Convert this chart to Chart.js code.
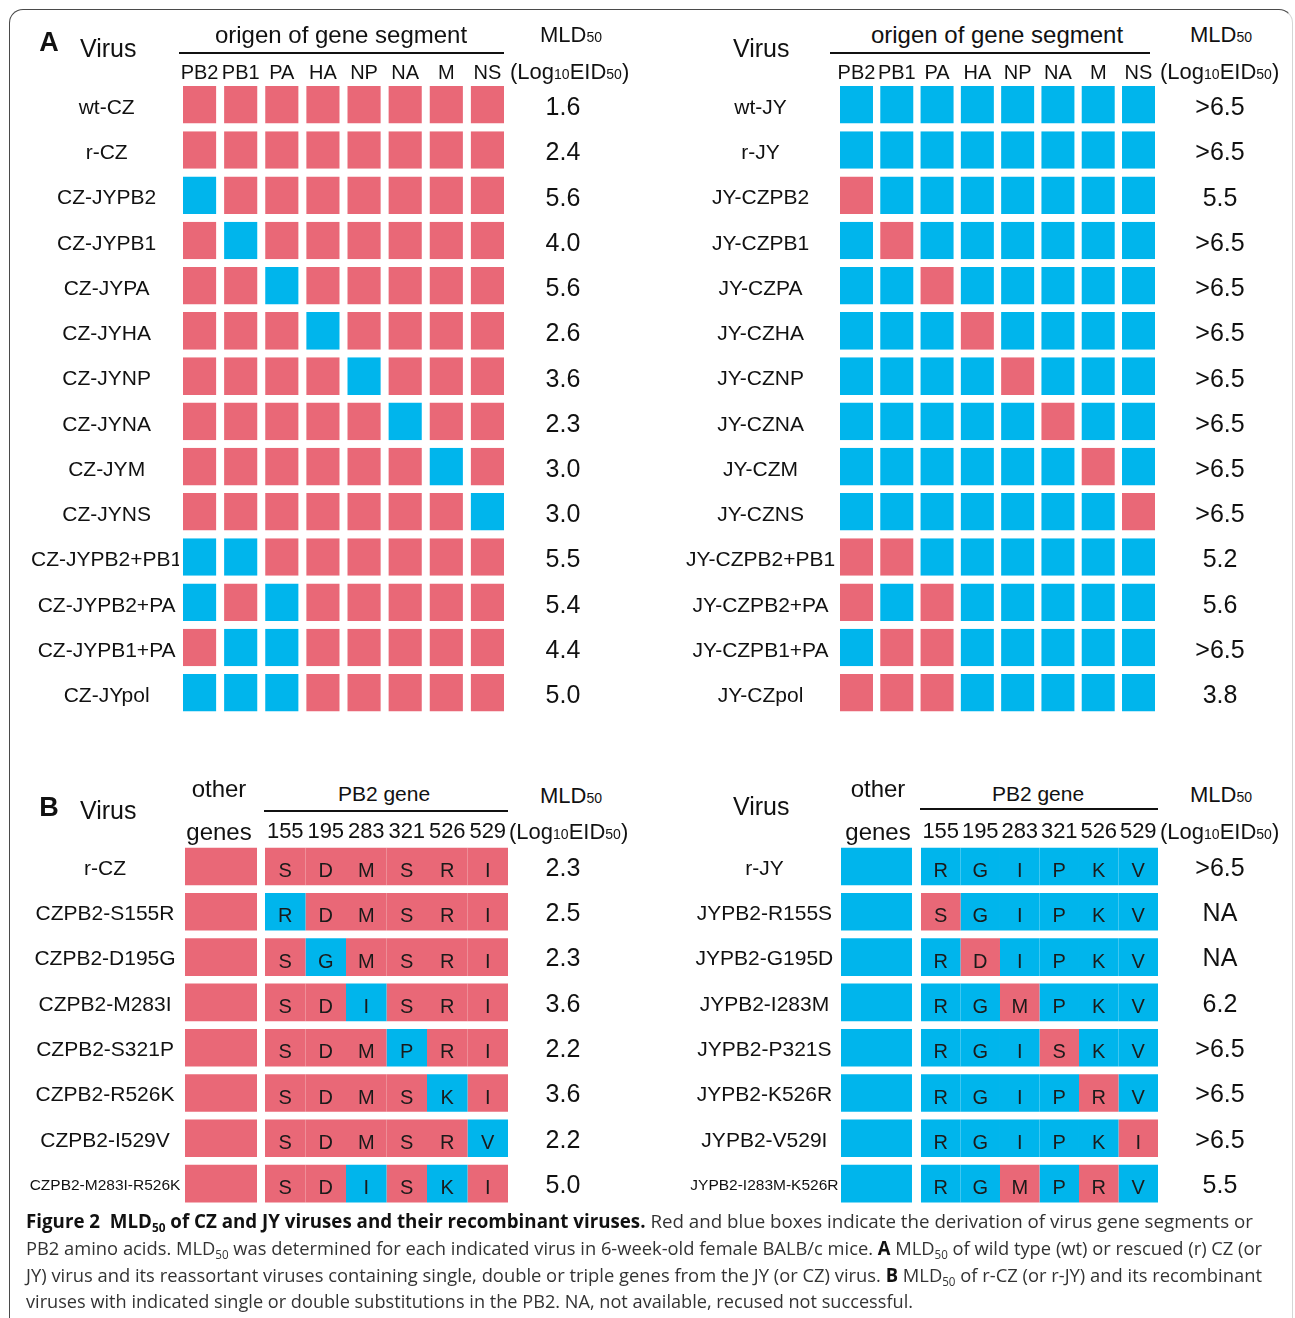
<!DOCTYPE html>
<html><head><meta charset="utf-8">
<script src="https://cdn.jsdelivr.net/npm/chart.js@4/dist/chart.umd.min.js"></script>
<style>
html,body{margin:0;padding:0;background:#fff;}
#fig{position:relative;width:1295px;height:1318px;overflow:hidden;font-family:"Liberation Sans",Arial,sans-serif;color:#111;}
.t{position:absolute;white-space:nowrap;line-height:1;}
.c{transform:translate(-50%,-50%);}
.l{transform:translate(0,-50%);}
.s{font-size:14px;}
canvas{position:absolute;}
.rule{position:absolute;height:2px;background:#111;}
#frame{position:absolute;left:9px;top:9px;width:1284px;height:1400px;border-top:1.5px solid #4a4a4a;border-left:1.5px solid #4a4a4a;border-right:1px solid #d5d5d5;border-radius:14px 14px 0 0;box-sizing:border-box;}
.cap{position:absolute;left:26px;font-family:"Open Sans",sans-serif;font-size:19px;color:#333;white-space:nowrap;transform-origin:0 50%;line-height:1;}
.cap b{color:#111;}
.cap sub{font-size:12px;vertical-align:-4px;line-height:0;}
</style></head>
<body>
<div id="fig">
<div id="frame"></div>
<canvas id="cA1"></canvas><canvas id="cA2"></canvas><canvas id="cB1"></canvas><canvas id="cB2"></canvas>

<div class="t c" style="left:49px;top:42px;font-size:27px;font-weight:bold;">A</div>
<div class="t l" style="left:80px;top:48px;font-size:25px;">Virus</div>
<div class="t c" style="left:341px;top:35px;font-size:24px;">origen of gene segment</div>
<div class="rule" style="left:179px;top:52px;width:325px;"></div>
<div class="t l" style="left:540px;top:35px;font-size:22px;">MLD<span class="s">50</span></div>
<div class="t l" style="left:510px;top:72px;font-size:22px;">(Log<span class="s">10</span>EID<span class="s">50</span>)</div>

<div class="t l" style="left:733px;top:48px;font-size:25px;">Virus</div>
<div class="t c" style="left:997px;top:35px;font-size:24px;">origen of gene segment</div>
<div class="rule" style="left:830px;top:52px;width:320px;"></div>
<div class="t l" style="left:1190px;top:35px;font-size:22px;">MLD<span class="s">50</span></div>
<div class="t l" style="left:1160px;top:72px;font-size:22px;">(Log<span class="s">10</span>EID<span class="s">50</span>)</div>

<div class="t c" style="left:49px;top:807px;font-size:27px;font-weight:bold;">B</div>
<div class="t l" style="left:80px;top:810px;font-size:25px;">Virus</div>
<div class="t c" style="left:219px;top:789px;font-size:24px;">other</div>
<div class="t c" style="left:219px;top:832px;font-size:24px;">genes</div>
<div class="t c" style="left:384px;top:793px;font-size:21px;">PB2 gene</div>
<div class="rule" style="left:264px;top:810px;width:244px;"></div>
<div class="t l" style="left:540px;top:796px;font-size:22px;">MLD<span class="s">50</span></div>
<div class="t l" style="left:509px;top:832px;font-size:22px;">(Log<span class="s">10</span>EID<span class="s">50</span>)</div>

<div class="t l" style="left:733px;top:806px;font-size:25px;">Virus</div>
<div class="t c" style="left:878px;top:789px;font-size:24px;">other</div>
<div class="t c" style="left:878px;top:832px;font-size:24px;">genes</div>
<div class="t c" style="left:1038px;top:793px;font-size:21px;">PB2 gene</div>
<div class="rule" style="left:920px;top:808px;width:238px;"></div>
<div class="t l" style="left:1190px;top:795px;font-size:22px;">MLD<span class="s">50</span></div>
<div class="t l" style="left:1160px;top:832px;font-size:22px;">(Log<span class="s">10</span>EID<span class="s">50</span>)</div>

<div class="cap" id="cap1" style="top:1212px;" data-w="1227"><b>Figure 2&nbsp; MLD<sub>50</sub> of CZ and JY viruses and their recombinant viruses.</b> Red and blue boxes indicate the derivation of virus gene segments or</div>
<div class="cap" id="cap2" style="top:1239px;" data-w="1236">PB2 amino acids. MLD<sub>50</sub> was determined for each indicated virus in 6-week-old female BALB/c mice. <b>A</b> MLD<sub>50</sub> of wild type (wt) or rescued (r) CZ (or</div>
<div class="cap" id="cap3" style="top:1266px;" data-w="1236">JY) virus and its reassortant viruses containing single, double or triple genes from the JY (or CZ) virus. <b>B</b> MLD<sub>50</sub> of r-CZ (or r-JY) and its recombinant</div>
<div class="cap" id="cap4" style="top:1292px;" data-w="887">viruses with indicated single or double substitutions in the PB2. NA, not available, recused not successful.</div>
</div>

<script>
// ---------- data ----------
const genes = ['PB2','PB1','PA','HA','NP','NA','M','NS'];

const czVirusesA = ['wt-CZ','r-CZ','CZ-JYPB2','CZ-JYPB1','CZ-JYPA','CZ-JYHA','CZ-JYNP','CZ-JYNA','CZ-JYM','CZ-JYNS','CZ-JYPB2+PB1','CZ-JYPB2+PA','CZ-JYPB1+PA','CZ-JYpol'];
const czOriginA  = ['CCCCCCCC','CCCCCCCC','JCCCCCCC','CJCCCCCC','CCJCCCCC','CCCJCCCC','CCCCJCCC','CCCCCJCC','CCCCCCJC','CCCCCCCJ','JJCCCCCC','JCJCCCCC','CJJCCCCC','JJJCCCCC'];
const czMldA     = ['1.6','2.4','5.6','4.0','5.6','2.6','3.6','2.3','3.0','3.0','5.5','5.4','4.4','5.0'];

const jyVirusesA = ['wt-JY','r-JY','JY-CZPB2','JY-CZPB1','JY-CZPA','JY-CZHA','JY-CZNP','JY-CZNA','JY-CZM','JY-CZNS','JY-CZPB2+PB1','JY-CZPB2+PA','JY-CZPB1+PA','JY-CZpol'];
const jyOriginA  = ['JJJJJJJJ','JJJJJJJJ','CJJJJJJJ','JCJJJJJJ','JJCJJJJJ','JJJCJJJJ','JJJJCJJJ','JJJJJCJJ','JJJJJJCJ','JJJJJJJC','CCJJJJJJ','CJCJJJJJ','JCCJJJJJ','CCCJJJJJ'];
const jyMldA     = ['>6.5','>6.5','5.5','>6.5','>6.5','>6.5','>6.5','>6.5','>6.5','>6.5','5.2','5.6','>6.5','3.8'];

const pb2Positions = ['155','195','283','321','526','529'];

const czVirusesB        = ['r-CZ','CZPB2-S155R','CZPB2-D195G','CZPB2-M283I','CZPB2-S321P','CZPB2-R526K','CZPB2-I529V','CZPB2-M283I-R526K'];
const czOtherOriginB    = 'C';
const czResiduesB       = ['SDMSRI','RDMSRI','SGMSRI','SDISRI','SDMPRI','SDMSKI','SDMSRV','SDISKI'];
const czResidueOriginB  = ['CCCCCC','JCCCCC','CJCCCC','CCJCCC','CCCJCC','CCCCJC','CCCCCJ','CCJCJC'];
const czMldB            = ['2.3','2.5','2.3','3.6','2.2','3.6','2.2','5.0'];

const jyVirusesB        = ['r-JY','JYPB2-R155S','JYPB2-G195D','JYPB2-I283M','JYPB2-P321S','JYPB2-K526R','JYPB2-V529I','JYPB2-I283M-K526R'];
const jyOtherOriginB    = 'J';
const jyResiduesB       = ['RGIPKV','SGIPKV','RDIPKV','RGMPKV','RGISKV','RGIPRV','RGIPKI','RGMPRV'];
const jyResidueOriginB  = ['JJJJJJ','CJJJJJ','JCJJJJ','JJCJJJ','JJJCJJ','JJJJCJ','JJJJJC','JJCJCJ'];
const jyMldB            = ['>6.5','NA','NA','6.2','>6.5','>6.5','>6.5','5.5'];

// ---------- styles ----------
const RED = '#E96877', BLUE = '#00B5EC', TXT = '#111';
const FONT = '"Liberation Sans", Arial, sans-serif';
const col = o => (o === 'C' ? RED : BLUE);

function fixAxis(size, prop) {
  return a => { a[prop] = size; a.paddingTop = 0; a.paddingBottom = 0; a.paddingLeft = 0; a.paddingRight = 0; };
}

const letterPlugin = {
  id: 'letters',
  afterDatasetsDraw(chart, args, opts) {
    if (!opts || !opts.residues) return;
    const ctx = chart.ctx;
    ctx.save();
    ctx.font = '20px ' + FONT;
    ctx.fillStyle = '#1a1a1a';
    ctx.textAlign = 'center';
    ctx.textBaseline = 'middle';
    for (let p = 0; p < pb2Positions.length; p++) {
      const meta = chart.getDatasetMeta(opts.first + p);
      meta.data.forEach((el, r) => {
        const pr = el.getProps(['x', 'base', 'y'], true);
        ctx.fillText(opts.residues[r][p], (pr.x + pr.base) / 2, pr.y + 5);
      });
    }
    ctx.restore();
  }
};

function buildChart(id, box, area, g) {
  const cv = document.getElementById(id);
  cv.width = box.w; cv.height = box.h;
  cv.style.left = box.l + 'px'; cv.style.top = box.t + 'px';
  cv.style.width = box.w + 'px'; cv.style.height = box.h + 'px';
  const leftW = area.l - box.l, rightW = box.l + box.w - area.r, topH = area.t - box.t, padB = box.t + box.h - area.b;
  const n = g.labels.length;
  new Chart(cv.getContext('2d'), {
    type: 'bar',
    data: { labels: g.labels, datasets: g.datasets },
    plugins: [letterPlugin],
    options: {
      indexAxis: 'y', responsive: false, animation: false, events: [],
      layout: { padding: { left: 0, right: 0, top: 0, bottom: padB } },
      plugins: { legend: { display: false }, tooltip: { enabled: false }, letters: g.letters || {} },
      scales: {
        x: {
          type: 'linear', position: 'top', min: 0, max: g.xMax, stacked: true,
          grid: { display: false, drawTicks: false }, border: { display: false },
          afterBuildTicks: a => { a.ticks = g.xTicks.map(v => ({ value: v })); },
          ticks: { autoSkip: false, maxRotation: 0, minRotation: 0, padding: g.xPad, color: TXT,
                   font: { family: FONT, size: g.xFont }, callback: (v, i) => g.xLabels[i] },
          afterFit: fixAxis(topH, 'height')
        },
        y: {
          type: 'category', position: 'left', stacked: true, offset: true,
          grid: { display: false, drawTicks: false }, border: { display: false },
          ticks: { autoSkip: false, crossAlign: 'center', padding: g.yPad, color: TXT, labelOffset: g.lOff,
                   font: c => ({ family: FONT, size: (g.smallLast && c.index === n - 1) ? 15.5 : g.yFont }) },
          afterFit: fixAxis(leftW, 'width')
        },
        y2: {
          type: 'category', position: 'right', labels: g.values, offset: true,
          grid: { display: false, drawTicks: false }, border: { display: false },
          ticks: { autoSkip: false, crossAlign: 'center', padding: g.vPad, color: TXT, labelOffset: g.lOff,
                   font: { family: FONT, size: 25 } },
          afterFit: fixAxis(rightW, 'width')
        }
      }
    }
  });
}

function panelA(id, box, area, viruses, origin, values, half, yPad, vPad) {
  const datasets = genes.map((gname, gi) => ({
    label: gname,
    data: viruses.map(() => 1),
    backgroundColor: origin.map(o => col(o[gi])),
    borderColor: 'rgba(255,255,255,0)',
    borderWidth: { top: 0, bottom: 0, left: half, right: half },
    borderSkipped: false, inflateAmount: 0,
    barPercentage: 0.83, categoryPercentage: 1
  }));
  buildChart(id, box, area, {
    labels: viruses, datasets, values,
    xMax: genes.length, xTicks: genes.map((_, i) => i + 0.5), xLabels: genes, xFont: 20, xPad: -3,
    yPad, yFont: 21, vPad, lOff: 3.5
  });
}

function panelB(id, box, area, viruses, otherOrigin, residues, resOrigin, values, otherW, gapW, yPad, vPad) {
  const common = { borderWidth: 0, borderSkipped: false, inflateAmount: 0, barPercentage: 0.83, categoryPercentage: 1 };
  const datasets = [
    Object.assign({ label: 'other genes', data: viruses.map(() => otherW), backgroundColor: col(otherOrigin) }, common),
    Object.assign({ label: 'gap', data: viruses.map(() => gapW), backgroundColor: 'rgba(0,0,0,0)' }, common)
  ].concat(pb2Positions.map((p, pi) => Object.assign({
    label: p, data: viruses.map(() => 1), backgroundColor: resOrigin.map(o => col(o[pi]))
  }, common)));
  buildChart(id, box, area, {
    labels: viruses, datasets, values,
    xMax: otherW + gapW + pb2Positions.length,
    xTicks: pb2Positions.map((_, i) => otherW + gapW + i + 0.5), xLabels: pb2Positions, xFont: 22, xPad: -1.4,
    yPad, yFont: 21, vPad, smallLast: true, lOff: 2.5,
    letters: { residues, first: 2 }
  });
}

panelA('cA1', { l: 10, t: 50, w: 625, h: 680 }, { l: 179, r: 508, t: 82.1, b: 715.4 },
       czVirusesA, czOriginA, czMldA, 4, -3.2, 37.6);
panelA('cA2', { l: 640, t: 50, w: 650, h: 680 }, { l: 836.35, r: 1158.65, t: 82.1, b: 715.4 },
       jyVirusesA, jyOriginA, jyMldA, 3.65, 1.2, 36.7);
panelB('cB1', { l: 10, t: 815, w: 625, h: 400 }, { l: 185, r: 508, t: 843.85, b: 1206.25 },
       czVirusesB, czOtherOriginB, czResiduesB, czResidueOriginB, czMldB, 1.778, 0.1975, 4.6, 37.6);
panelB('cB2', { l: 640, t: 815, w: 650, h: 400 }, { l: 841, r: 1158, t: 843.85, b: 1206.25 },
       jyVirusesB, jyOtherOriginB, jyResiduesB, jyResidueOriginB, jyMldB, 1.797, 0.228, 2.5, 37.3);

// caption line fitting
function fitCaption() {
  document.querySelectorAll('.cap').forEach(el => {
    el.style.transform = 'none';
    const w = el.getBoundingClientRect().width;
    const target = parseFloat(el.dataset.w);
    el.style.transform = 'scaleX(' + (target / w) + ')';
  });
}
fitCaption();
if (document.fonts && document.fonts.ready) document.fonts.ready.then(fitCaption);
</script>
</body></html>
